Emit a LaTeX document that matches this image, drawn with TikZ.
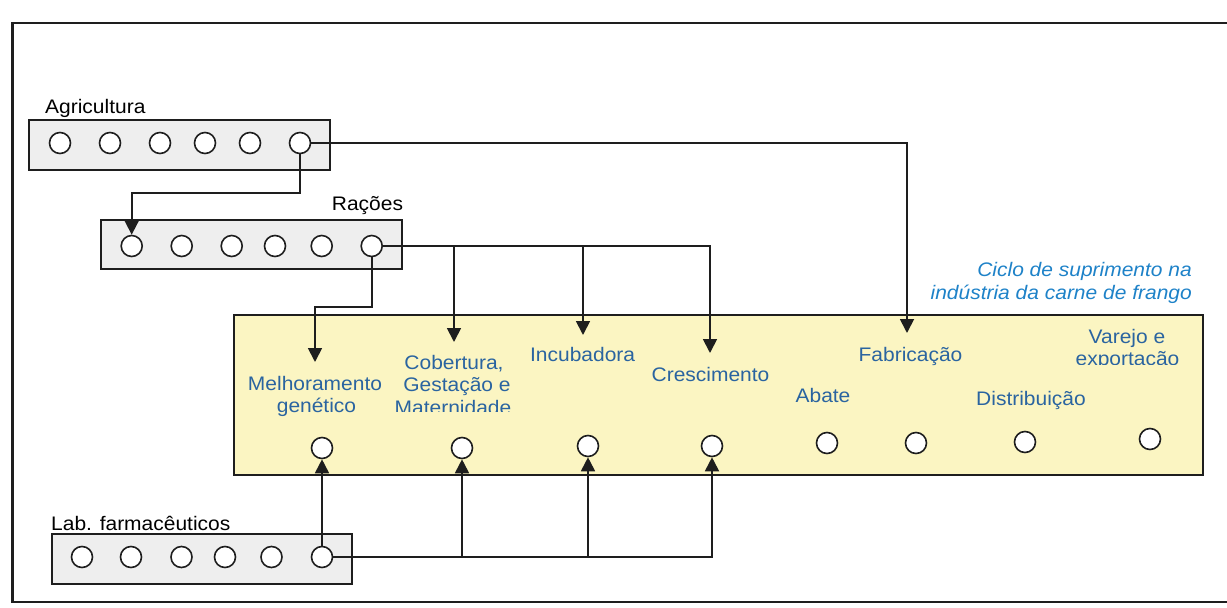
\documentclass[tikz,border=0pt]{standalone}
\usepackage{fontspec}
\setmainfont{Liberation Sans}[FakeStretch=1.07]
\usetikzlibrary{arrows.meta}
\definecolor{ink}{HTML}{1E1E1E}
\definecolor{stageblue}{HTML}{2A64A0}
\definecolor{capblue}{HTML}{1E82C8}
\definecolor{yel}{HTML}{FBF5C2}
\definecolor{stripgray}{HTML}{EEEEEE}
\newcommand\lblfont{\fontsize{19.6}{22}\selectfont}
\begin{document}
\begin{tikzpicture}[x=1pt,y=-1pt,
  dot/.style={circle,draw=ink,line width=1.6pt,fill=white,minimum size=21pt,inner sep=0pt},
  strip/.style={draw=ink,line width=1.6pt,fill=stripgray,inner sep=0pt},
  cyclebox/.style={draw=ink,line width=1.7pt,fill=yel,inner sep=0pt},
  frameline/.style={draw=ink,line width=2.4pt},
  lbl/.style={font=\lblfont,text=black,inner sep=0pt,anchor=base west},
  stage/.style={font=\lblfont,text=stageblue,inner sep=0pt,anchor=base},
  capt/.style={font=\lblfont\itshape,text=capblue,inner sep=0pt,anchor=base east},
  link/.style={draw=ink,line width=1.8pt},
  feed/.style={link,-{Triangle[length=14pt,width=14pt]}},
]
\useasboundingbox (0,0) rectangle (1227,608);
\begin{scope}
  \clip (0,0) rectangle (1227,608);
  \draw[frameline] (12.5,23) -- (1240,23) -- (1240,602) -- (12.5,602) -- cycle;
\end{scope}

% boxes
\node[strip,minimum width=301pt,minimum height=50pt] (agbox) at (179.5,145) {};
\node[strip,minimum width=301pt,minimum height=49pt] (racbox) at (251.3,244.5) {};
\node[strip,minimum width=300pt,minimum height=49.5pt] (labbox) at (202,559) {};
\node[cyclebox,minimum width=969pt,minimum height=160pt] (cyc) at (718.5,395) {};

% circles
\foreach \i/\x in {1/60,2/110,3/160,4/205,5/250,6/300}
  \node[dot] (ag\i) at (\x,143) {};
\foreach \i/\x in {1/131.7,2/181.7,3/231.7,4/275,5/321.7,6/371.7}
  \node[dot] (rac\i) at (\x,246) {};
\foreach \i/\x in {1/82,2/131,3/181.5,4/225,5/271.5,6/322}
  \node[dot] (lab\i) at (\x,557) {};
\foreach \n/\x/\y in {mel/322/448,cob/462/448,inc/588/446,cre/712/446,aba/827/443,fab/916/443,dis/1025/442,var/1150/439}
  \node[dot] (\n) at (\x,\y) {};

% labels
\node[lbl] (agt) at (45,113.3) {Agricultura};
\node[lbl] (ract) at (331.7,210) {Rações};
\node[lbl] (labt) at (51,530) {Lab. farmacêuticos};

\node[capt] (capa) at (1192,276) {Ciclo de suprimento na};
\node[capt] (capb) at (1192,299) {indústria da carne de frango};

\node[stage] (mela) at (315,390) {Melhoramento};
\node[stage] (melb) at (316.5,412) {genético};
\node[stage] (coba) at (454,369) {Cobertura,};
\node[stage] (cobb) at (457,391) {Gestação e};
\begin{scope}
  \clip (380,395) rectangle (530,411.5);
  \node[stage] (cobc) at (453,414) {Maternidade};
\end{scope}
\node[stage] (inct) at (582.6,361.7) {Incubadora};
\node[stage] (cret) at (710.5,381.7) {Crescimento};
\node[stage] (abat) at (823,402.3) {Abate};
\node[stage] (fabt) at (910.5,361.7) {Fabricação};
\node[stage] (dist) at (1031,405) {Distribuição};
\node[stage] (vara) at (1127,343.3) {Varejo e};
\begin{scope}
  \clip (1060,345) rectangle (1195,364.5);
  \node[stage] (varb) at (1127.5,365.5) {exportação};
\end{scope}

% connector end points inside the cycle box
\coordinate (agturn) at (131.7,193);
\coordinate (fabin) at (907,333);
\coordinate (melturn) at (315,307);
\coordinate (melin) at (315,362);
\coordinate (cobin) at (454,342);
\coordinate (incin) at (583,335);
\coordinate (crein) at (710,353);

% connectors
\draw[feed] (ag6.south) |- (agturn) -- (rac1.north);
\draw[feed] (ag6.east) -| (fabin);
\draw[feed] (rac6.south) |- (melturn) -- (melin);
\draw[feed] (rac6.east) -| (cobin);
\draw[feed] (rac6.east) -| (incin);
\draw[feed] (rac6.east) -| (crein);
\draw[feed] (lab6.north) -- (mel.south);
\draw[feed] (lab6.east) -| (cob.south);
\draw[feed] (lab6.east) -| (inc.south);
\draw[feed] (lab6.east) -| (cre.south);
\end{tikzpicture}
\end{document}
